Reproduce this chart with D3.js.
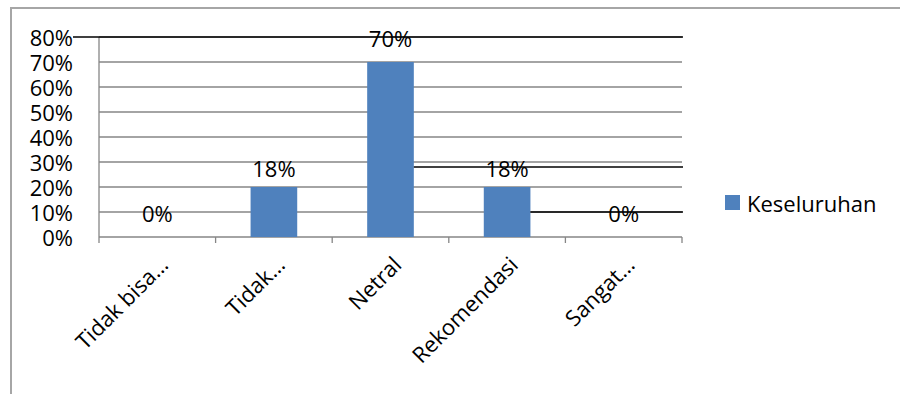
<!DOCTYPE html>
<html>
<head>
<meta charset="utf-8">
<script src="https://cdn.jsdelivr.net/npm/d3@7"></script>
<style>
  body { margin: 0; background: #fff; }
  svg text { font-family: "Open Sans", sans-serif; fill: #000; }
</style>
</head>
<body>
<script>
var categories = ["Tidak bisa…", "Tidak…", "Netral", "Rekomendasi", "Sangat…"];
var barValues = [0, 0.2, 0.7, 0.2, 0];
var labelValues = [0, 0.18, 0.7, 0.18, 0];
var labelTexts = ["0%", "18%", "70%", "18%", "0%"];
var yTicks = [0, 0.1, 0.2, 0.3, 0.4, 0.5, 0.6, 0.7, 0.8];
var seriesName = "Keseluruhan";

var width = 900, height = 394;
var plotLeft = 99, plotRight = 682, plotTop = 37, plotBottom = 237;
var fontSize = 22;

var svg = d3.select("body").append("svg")
    .attr("width", width)
    .attr("height", height);

// outer frame
svg.append("rect")
    .attr("x", 11).attr("y", 8)
    .attr("width", width + 20).attr("height", height + 20)
    .attr("fill", "none")
    .attr("stroke", "#a6a6a6")
    .attr("stroke-width", 2);

var y = d3.scaleLinear().domain([0, 0.8]).range([plotBottom, plotTop]);
var x = d3.scaleBand().domain(categories).range([plotLeft, plotRight])
    .paddingInner(0.6).paddingOuter(0.3);

var fmt = d3.format(".0%");

// gridlines
svg.append("g").selectAll("line")
    .data(yTicks)
    .enter().append("line")
    .attr("x1", plotLeft).attr("x2", plotRight)
    .attr("y1", function(d) { return y(d); })
    .attr("y2", function(d) { return y(d); })
    .attr("stroke", "#868686")
    .attr("stroke-width", 1.3);

// y axis line
svg.append("line")
    .attr("x1", plotLeft).attr("x2", plotLeft)
    .attr("y1", y(0.8)).attr("y2", y(0))
    .attr("stroke", "#868686").attr("stroke-width", 1.3);

// x axis ticks at category boundaries
var gap = (x.step() - x.bandwidth()) / 2;
var bounds = categories.map(function(c) { return x(c) - gap; });
bounds.push(plotRight);
svg.append("g").selectAll("line")
    .data(bounds)
    .enter().append("line")
    .attr("x1", function(d) { return d; })
    .attr("x2", function(d) { return d; })
    .attr("y1", y(0)).attr("y2", y(0) + 6)
    .attr("stroke", "#868686").attr("stroke-width", 1.3);

// y labels
svg.append("g").selectAll("text")
    .data(yTicks)
    .enter().append("text")
    .attr("x", 73)
    .attr("y", function(d) { return y(d); })
    .attr("text-anchor", "end")
    .attr("dominant-baseline", "central")
    .attr("font-size", fontSize)
    .text(function(d) { return fmt(d); });

// bars
svg.append("g").selectAll("rect")
    .data(barValues)
    .enter().append("rect")
    .attr("x", function(d, i) { return x(categories[i]); })
    .attr("width", x.bandwidth())
    .attr("y", function(d) { return y(d); })
    .attr("height", function(d) { return y(0) - y(d); })
    .attr("fill", "#4f81bd");

// x labels
svg.append("g").selectAll("text")
    .data(categories)
    .enter().append("text")
    .attr("transform", function(d) {
        return "translate(" + (x(d) + x.bandwidth() / 2 + 6) + "," + (y(0) + 23) + ") rotate(-45)";
    })
    .attr("text-anchor", "end")
    .attr("dominant-baseline", "central")
    .attr("font-size", fontSize)
    .text(function(d) { return d; });

// value labels
var labelY = function(v) { return y(v) - 24; };
svg.append("g").selectAll("text")
    .data(labelValues)
    .enter().append("text")
    .attr("x", function(d, i) { return x(categories[i]) + x.bandwidth() / 2; })
    .attr("y", function(d) { return labelY(d); })
    .attr("text-anchor", "middle")
    .attr("dominant-baseline", "central")
    .attr("font-size", fontSize)
    .text(function(d, i) { return labelTexts[i]; });

// black strike lines through some value labels
var strikes = [
    { at: 2, from: 73 },
    { at: 3, from: x(categories[2]) + x.bandwidth() },
    { at: 4, from: x(categories[3]) + x.bandwidth() }
];
svg.append("g").selectAll("line")
    .data(strikes)
    .enter().append("line")
    .attr("x1", function(d) { return d.from; })
    .attr("x2", plotRight + 1)
    .attr("y1", function(d) { return labelY(labelValues[d.at]) - 1; })
    .attr("y2", function(d) { return labelY(labelValues[d.at]) - 1; })
    .attr("stroke", "#000")
    .attr("stroke-width", 1.6);

// legend
var legend = svg.append("g").attr("transform", "translate(725,195)");
legend.append("rect")
    .attr("width", 15).attr("height", 15)
    .attr("fill", "#4f81bd");
legend.append("text")
    .attr("x", 22).attr("y", 8)
    .attr("dominant-baseline", "central")
    .attr("font-size", fontSize)
    .text(seriesName);
</script>
</body>
</html>
